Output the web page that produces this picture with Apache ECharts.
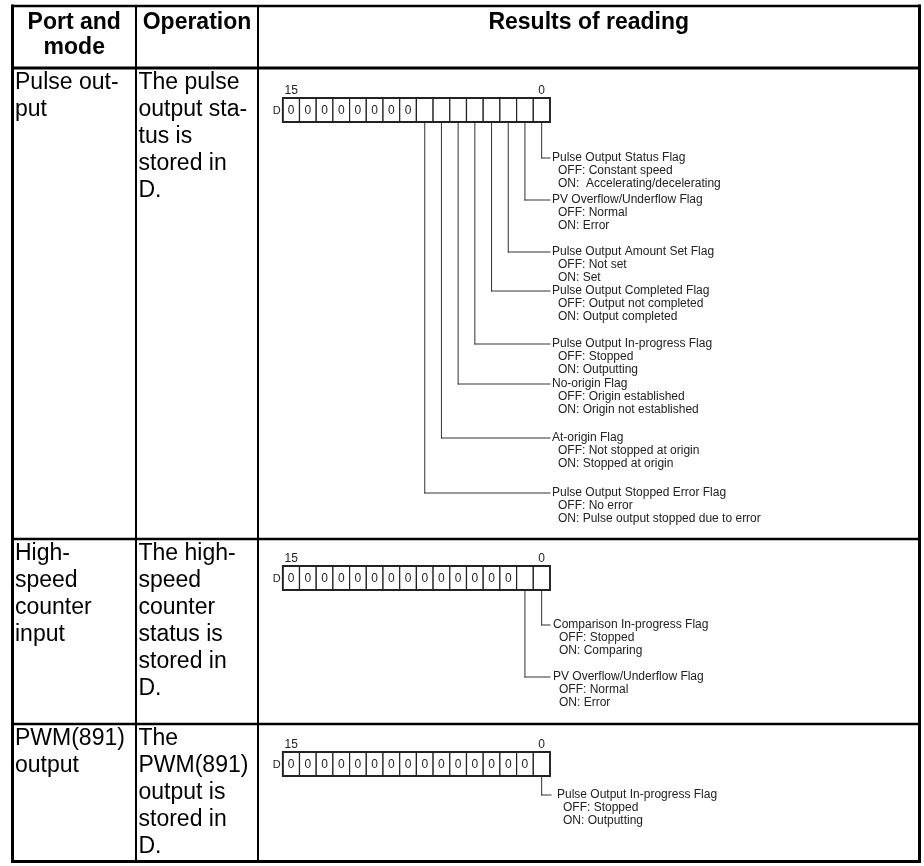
<!DOCTYPE html>
<html><head><meta charset="utf-8">
<script src="https://cdn.jsdelivr.net/npm/echarts@6/dist/echarts.min.js"></script>
<style>html,body{margin:0;padding:0;background:#fff}#c{width:924px;height:866px}</style>
</head><body><div id="c"></div>
<script>
// ---------- data ----------
const headerLabels = ['Port and\nmode', 'Operation', 'Results of reading'];
const portModes = ['Pulse out-\nput', 'High-\nspeed\ncounter\ninput', 'PWM(891)\noutput'];
const operations = [
  'The pulse\noutput sta-\ntus is\nstored in\nD.',
  'The high-\nspeed\ncounter\nstatus is\nstored in\nD.',
  'The\nPWM(891)\noutput is\nstored in\nD.'
];
const registerName = 'D';
const bitLabels = ['15', '0'];
const bitCount = 16;
const fixedZeroBits = [8, 14, 15];

const pulseFlagNames = ['Pulse Output Status Flag', 'PV Overflow/Underflow Flag', 'Pulse Output Amount Set Flag',
  'Pulse Output Completed Flag', 'Pulse Output In-progress Flag', 'No-origin Flag', 'At-origin Flag',
  'Pulse Output Stopped Error Flag'];
const pulseFlagOff = ['OFF: Constant speed', 'OFF: Normal', 'OFF: Not set', 'OFF: Output not completed',
  'OFF: Stopped', 'OFF: Origin established', 'OFF: Not stopped at origin', 'OFF: No error'];
const pulseFlagOn = ['ON:  Accelerating/decelerating', 'ON: Error', 'ON: Set', 'ON: Output completed',
  'ON: Outputting', 'ON: Origin not established', 'ON: Stopped at origin', 'ON: Pulse output stopped due to error'];

const counterFlagNames = ['Comparison In-progress Flag', 'PV Overflow/Underflow Flag'];
const counterFlagOff = ['OFF: Stopped', 'OFF: Normal'];
const counterFlagOn = ['ON: Comparing', 'ON: Error'];

const pwmFlagNames = ['Pulse Output In-progress Flag'];
const pwmFlagOff = ['OFF: Stopped'];
const pwmFlagOn = ['ON: Outputting'];

// ---------- layout (positions / styles only) ----------
const W = 924, H = 866;
const FONT = '"Liberation Sans", Arial, Helvetica, sans-serif';
const colX = [12.5, 136, 258, 919.5];
const rowY = [6, 68, 539, 724, 861.5];
const rowLineW = [2.5, 3, 2.5, 2.5, 3];
const colLineW = [3, 2, 2, 3];
const regRight = 550, cellW = 16.7, cellH = 24;
const regTop = [98, 566, 752];
const flagY = [[158, 200, 252, 291, 344, 384, 438, 493], [625, 677], [795]];
const flagTextX = [552, 553, 557];
const flagLineEnd = [550, 550, 551];
const subIndent = 6, subStep = 13;

const flagRows = [
  { names: pulseFlagNames, off: pulseFlagOff, on: pulseFlagOn },
  { names: counterFlagNames, off: counterFlagOff, on: counterFlagOn },
  { names: pwmFlagNames, off: pwmFlagOff, on: pwmFlagOn }
];

// ---------- helpers ----------
function line(api, x1, y1, x2, y2, w, color) {
  const a = api.coord([x1, y1]), b = api.coord([x2, y2]);
  return { type: 'line', shape: { x1: a[0], y1: a[1], x2: b[0], y2: b[1] }, style: { stroke: color, lineWidth: w, lineCap: 'square' } };
}
function text(api, x, y, str, o) {
  const p = api.coord([x, y]);
  return { type: 'text', x: p[0], y: p[1], style: Object.assign({ text: str, fill: '#000', fontFamily: FONT, fontSize: 12, align: 'left', verticalAlign: 'middle' }, o || {}) };
}

// ---------- series data ----------
const gridItems = [[0, 0]];
const cellTextItems = [];
headerLabels.forEach((t, c) => cellTextItems.push({ value: [0, 0], kind: 'h', col: c, row: 0, str: t }));
portModes.forEach((t, r) => cellTextItems.push({ value: [0, 0], kind: 'b', col: 0, row: r + 1, str: t }));
operations.forEach((t, r) => cellTextItems.push({ value: [0, 0], kind: 'b', col: 1, row: r + 1, str: t }));

const registerItems = [];
fixedZeroBits.forEach((z, r) => {
  for (let b = bitCount - 1; b >= 0; b--) registerItems.push({ value: [0, 0], row: r, bit: b, str: (b >= bitCount - z) ? '0' : '' });
});
const flagItems = [];
flagRows.forEach((fr, r) => fr.names.forEach((n, k) => flagItems.push({ value: [0, 0], row: r, bit: k })));

function bitLeft(b) { return regRight - cellW * (b + 1); }

const chart = echarts.init(document.getElementById('c'), null, { renderer: 'canvas' });
chart.setOption({
  animation: false,
  backgroundColor: '#fff',
  grid: { left: 0, right: 0, top: 0, bottom: 0, containLabel: false },
  xAxis: { type: 'value', min: 0, max: W, show: false },
  yAxis: { type: 'value', min: 0, max: H, inverse: true, show: false },
  series: [
    { // table rules
      type: 'custom', coordinateSystem: 'cartesian2d', data: gridItems, silent: true,
      renderItem: function (params, api) {
        const ch = [];
        rowY.forEach((y, i) => ch.push(line(api, colX[0], y, colX[3], y, rowLineW[i], '#000')));
        colX.forEach((x, i) => ch.push(line(api, x, rowY[0], x, rowY[rowY.length - 1], colLineW[i], '#000')));
        return { type: 'group', children: ch };
      }
    },
    { // table texts
      type: 'custom', coordinateSystem: 'cartesian2d', data: cellTextItems, silent: true,
      renderItem: function (params, api) {
        const it = cellTextItems[params.dataIndex];
        if (it.kind === 'h') {
          const cx = (colX[it.col] + colX[it.col + 1]) / 2;
          return text(api, cx, rowY[0] + 4, it.str, { fontSize: 23, fontWeight: 'bold', align: 'center', verticalAlign: 'top', lineHeight: 25 });
        }
        return text(api, colX[it.col] + 2.5, rowY[it.row] + 1, it.str, { fontSize: 23, verticalAlign: 'top', lineHeight: 27 });
      }
    },
    { // register cells
      type: 'custom', coordinateSystem: 'cartesian2d', data: registerItems, silent: true,
      renderItem: function (params, api) {
        const it = registerItems[params.dataIndex];
        const x0 = bitLeft(it.bit), y0 = regTop[it.row];
        const a = api.coord([x0, y0]), b = api.coord([x0 + cellW, y0 + cellH]);
        const ch = [{ type: 'rect', shape: { x: a[0], y: a[1], width: b[0] - a[0], height: b[1] - a[1] }, style: { fill: '#fff', stroke: '#222', lineWidth: 1.2 } }];
        if (it.str) ch.push(text(api, x0 + cellW / 2, y0 + cellH / 2 + 0.5, it.str, { fontSize: 12, align: 'center', fill: '#222' }));
        if (it.bit === bitCount - 1) {
          ch.push(text(api, x0 - 6, y0 + cellH / 2 + 0.5, registerName, { fontSize: 11, align: 'center', fill: '#222' }));
          ch.push(text(api, x0 + cellW / 2, y0 - 7, bitLabels[0], { fontSize: 12, align: 'center', fill: '#222' }));
        }
        if (it.bit === 0) ch.push(text(api, x0 + cellW / 2, y0 - 7, bitLabels[1], { fontSize: 12, align: 'center', fill: '#222' }));
        return { type: 'group', children: ch };
      }
    },
    { // register outline
      type: 'custom', coordinateSystem: 'cartesian2d', data: fixedZeroBits.map(() => [0, 0]), silent: true, z: 3,
      renderItem: function (params, api) {
        const r = params.dataIndex;
        const a = api.coord([bitLeft(bitCount - 1), regTop[r]]), b = api.coord([regRight, regTop[r] + cellH]);
        return { type: 'rect', shape: { x: a[0], y: a[1], width: b[0] - a[0], height: b[1] - a[1] }, style: { fill: 'none', stroke: '#222', lineWidth: 1.8 } };
      }
    },
    { // flag connectors and descriptions
      type: 'custom', coordinateSystem: 'cartesian2d', data: flagItems, silent: true,
      renderItem: function (params, api) {
        const it = flagItems[params.dataIndex];
        const fr = flagRows[it.row];
        const cx = bitLeft(it.bit) + cellW / 2;
        const y = flagY[it.row][it.bit];
        const top = regTop[it.row] + cellH;
        const tx = flagTextX[it.row];
        const ch = [
          line(api, cx, top, cx, y, 1, '#333'),
          line(api, cx, y, flagLineEnd[it.row], y, 1, '#333'),
          text(api, tx, y, fr.names[it.bit], { fill: '#222' }),
          text(api, tx + subIndent, y + subStep, fr.off[it.bit], { fill: '#222' }),
          text(api, tx + subIndent, y + 2 * subStep, fr.on[it.bit], { fill: '#222' })
        ];
        return { type: 'group', children: ch };
      }
    }
  ]
});
</script>
</body></html>
